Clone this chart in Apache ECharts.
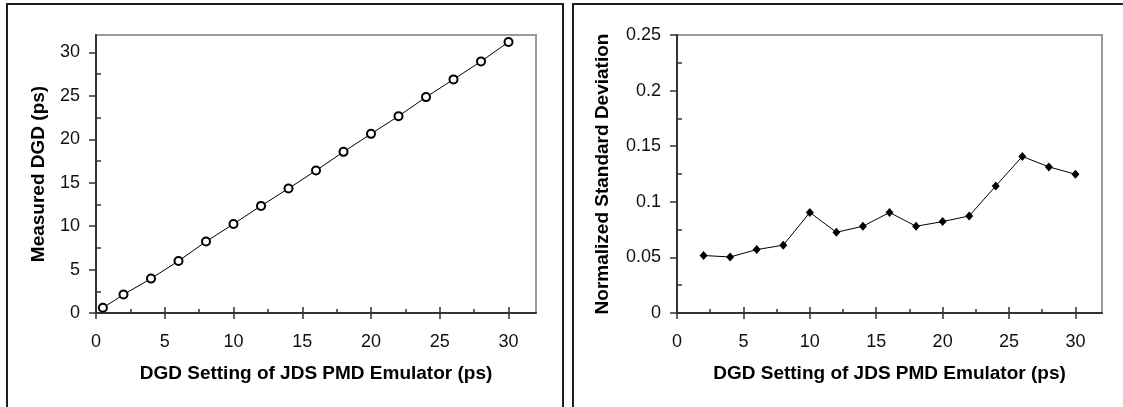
<!DOCTYPE html>
<html>
<head>
<meta charset="utf-8">
<script src="https://cdn.jsdelivr.net/npm/echarts@6/dist/echarts.min.js"></script>
<style>
html,body{margin:0;padding:0;background:#fff;}
#c{width:1123px;height:407px;}
</style>
</head>
<body>
<div id="c"></div>
<script>
// ---- data ----
const leftX = [0.5, 2, 4, 6, 8, 10, 12, 14, 16, 18, 20, 22, 24, 26, 28, 30];
const leftY = [0.6, 2.12, 3.96, 5.99, 8.22, 10.25, 12.33, 14.33, 16.4, 18.55, 20.62, 22.66, 24.85, 26.89, 28.96, 31.19];
const rightX = [2, 4, 6, 8, 10, 12, 14, 16, 18, 20, 22, 24, 26, 28, 30];
const rightY = [0.0517, 0.0504, 0.057, 0.061, 0.0904, 0.0726, 0.078, 0.0904, 0.078, 0.0822, 0.0873, 0.1143, 0.1408, 0.1314, 0.1248];
const xMajor = [0, 5, 10, 15, 20, 25, 30];
const xMinor = [2.5, 7.5, 12.5, 17.5, 22.5, 27.5];
const leftYMajor = [0, 5, 10, 15, 20, 25, 30];
const leftYMinor = [2.5, 7.5, 12.5, 17.5, 22.5, 27.5];
const rightYMajor = [0, 0.05, 0.1, 0.15, 0.2, 0.25];
const rightYMinor = [0.025, 0.075, 0.125, 0.175, 0.225];
const xTitle = 'DGD Setting of JDS PMD Emulator (ps)';
const leftYTitle = 'Measured DGD (ps)';
const rightYTitle = 'Normalized Standard Deviation';

const FONT = '"Liberation Sans", Arial, sans-serif';
const AX = '#333';
const lbl = {fontFamily: FONT, fontSize: 18, color: '#111'};
const nameStyle = {fontFamily: FONT, fontSize: 19, fontWeight: 'bold', color: '#000'};

function fmt(v){ return String(+(+v).toFixed(4)); }

function xAxes(grid){
  return [
    {gridIndex: grid, type: 'value', position: 'bottom', min: 0, max: 32,
     axisLine: {show: true, onZero: false, lineStyle: {color: AX, width: 2}},
     axisTick: {show: true, inside: false, length: 6, customValues: xMajor, lineStyle: {color: AX, width: 1.5}},
     axisLabel: {show: true, customValues: xMajor, margin: 20, formatter: fmt, ...lbl},
     splitLine: {show: false},
     name: xTitle, nameLocation: 'middle', nameGap: 51, nameTextStyle: nameStyle},
    {gridIndex: grid, type: 'value', position: 'bottom', min: 0, max: 32,
     axisLine: {show: false, onZero: false},
     axisTick: {show: true, inside: true, length: 6, customValues: xMajor, lineStyle: {color: AX, width: 1.5}},
     axisLabel: {show: false}, splitLine: {show: false}},
    {gridIndex: grid, type: 'value', position: 'bottom', min: 0, max: 32,
     axisLine: {show: false, onZero: false},
     axisTick: {show: true, inside: true, length: 4, customValues: xMinor, lineStyle: {color: AX, width: 1.5}},
     axisLabel: {show: false}, splitLine: {show: false}}
  ];
}
function yAxes(grid, max, major, minor, title, gap){
  return [
    {gridIndex: grid, type: 'value', position: 'left', min: 0, max: max,
     axisLine: {show: true, onZero: false, lineStyle: {color: AX, width: 2}},
     axisTick: {show: true, inside: false, length: 7, customValues: major, lineStyle: {color: AX, width: 1.5}},
     axisLabel: {show: true, customValues: major, margin: 16, formatter: fmt, ...lbl},
     splitLine: {show: false},
     name: title, nameLocation: 'middle', nameGap: gap, nameTextStyle: nameStyle},
    {gridIndex: grid, type: 'value', position: 'left', min: 0, max: max,
     axisLine: {show: false, onZero: false},
     axisTick: {show: true, inside: true, length: 5, customValues: minor, lineStyle: {color: AX, width: 1.5}},
     axisLabel: {show: false}, splitLine: {show: false}}
  ];
}

const chart = echarts.init(document.getElementById('c'), null, {renderer: 'canvas'});
const option = {
  animation: false,
  backgroundColor: '#fff',
  grid: [
    {left: 96, top: 35, width: 440, height: 278, show: true, borderColor: '#9a9a9a', borderWidth: 2, backgroundColor: 'transparent'},
    {left: 677, top: 35, width: 425, height: 278, show: true, borderColor: '#9a9a9a', borderWidth: 2, backgroundColor: 'transparent'}
  ],
  xAxis: [...xAxes(0), ...xAxes(1)],
  yAxis: [...yAxes(0, 32, leftYMajor, leftYMinor, leftYTitle, 48),
          ...yAxes(1, 0.25, rightYMajor, rightYMinor, rightYTitle, 65)],
  series: [
    {type: 'line', xAxisIndex: 0, yAxisIndex: 0,
     data: leftX.map((x, i) => [x, leftY[i]]),
     symbol: 'emptyCircle', symbolSize: 8,
     itemStyle: {color: '#000', borderColor: '#000', borderWidth: 1.5},
     lineStyle: {color: '#000', width: 1}},
    {type: 'line', xAxisIndex: 3, yAxisIndex: 2,
     data: rightX.map((x, i) => [x, rightY[i]]),
     symbol: 'diamond', symbolSize: [8, 9],
     itemStyle: {color: '#000'},
     lineStyle: {color: '#000', width: 1}}
  ],
  graphic: [
    {type: 'polyline', shape: {points: [[7, 407], [7, 4], [563, 4], [563, 407]]},
     style: {stroke: '#1e1e1e', lineWidth: 2, fill: null}, silent: true},
    {type: 'polyline', shape: {points: [[573, 407], [573, 4], [1123, 4]]},
     style: {stroke: '#1e1e1e', lineWidth: 2, fill: null}, silent: true}
  ]
};
chart.setOption(option);
</script>
</body>
</html>
